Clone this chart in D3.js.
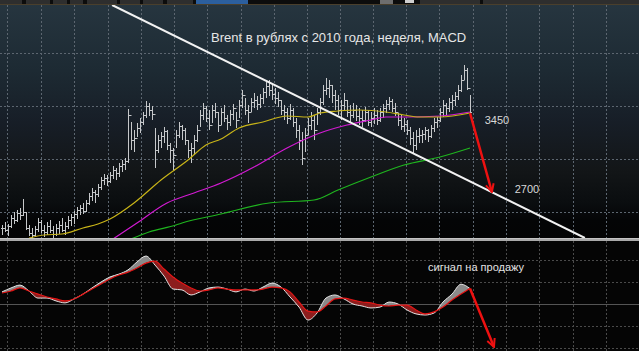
<!DOCTYPE html>
<html>
<head>
<meta charset="utf-8">
<script src="https://cdn.jsdelivr.net/npm/d3@7"></script>
<style>
  html, body { margin: 0; padding: 0; background: #000; }
  svg { display: block; }
</style>
</head>
<body>
<svg width="639" height="351"></svg>
<script>
// weekly Brent in rubles, 2010 onwards
const high = [2330,2360,2340,2430,2460,2480,2500,2590,2460,2330, 2300,2320,2400,2380,2330,2360,2380,2320,2340,2370,
  2400,2360,2420,2440,2470,2510,2530,2550,2580,2650, 2700,2680,2740,2810,2840,2830,2860,2920,2900,2950,
  2980,3000,3490,3360,3280,3350,3400,3460,3570,3550, 3520,3300,3230,3260,3310,3280,3150,3100,3280,3360,
  3330,3300,3180,3150,3230,3330,3480,3550,3520,3480, 3530,3550,3460,3500,3530,3430,3480,3540,3460,3580,
  3680,3600,3530,3600,3650,3620,3640,3700,3760,3780, 3740,3700,3660,3580,3530,3500,3540,3500,3400,3330,
  3260,3300,3400,3460,3430,3500,3600,3730,3800,3780, 3730,3680,3630,3580,3650,3580,3530,3550,3530,3500,
  3480,3510,3480,3460,3500,3480,3500,3540,3580,3610, 3590,3550,3450,3430,3400,3380,3310,3260,3280,3300,
  3280,3310,3290,3330,3400,3410,3500,3580,3550,3600, 3630,3660,3730,3830,3930,3900,3630];
const low = [2230,2260,2220,2300,2340,2360,2380,2420,2280,2220, 2200,2210,2260,2250,2210,2230,2250,2200,2220,2240,
  2260,2230,2290,2320,2340,2390,2430,2440,2460,2530, 2570,2550,2610,2680,2730,2720,2750,2790,2780,2810,
  2860,2880,2950,3080,3060,3210,3250,3330,3400,3420, 3380,2900,3050,3100,3150,3080,2950,2880,3100,3200,
  3180,3130,3000,2950,3030,3160,3310,3380,3360,3280, 3350,3400,3260,3330,3360,3280,3320,3380,3300,3400,
  3500,3430,3350,3460,3500,3480,3500,3540,3600,3620, 3580,3540,3510,3430,3380,3340,3380,3310,3200,3080,
  2930,3060,3230,3280,3180,3330,3430,3530,3630,3600, 3550,3480,3430,3380,3480,3410,3350,3400,3370,3330,
  3310,3360,3320,3310,3340,3330,3360,3400,3450,3480, 3460,3420,3320,3280,3260,3230,3130,3050,3080,3150,
  3150,3180,3160,3200,3260,3300,3360,3410,3430,3460, 3480,3520,3580,3660,3780,3680,3450];
const closes = [2300,2280,2320,2400,2380,2450,2430,2460,2300,2250, 2230,2290,2360,2280,2260,2320,2280,2240,2300,2330,
  2280,2320,2380,2410,2440,2480,2500,2470,2550,2620, 2660,2640,2710,2780,2800,2770,2830,2880,2850,2920,
  2940,2970,3430,3180,3200,3300,3360,3430,3520,3480, 3440,3080,3180,3220,3270,3130,3080,3030,3230,3320,
  3280,3180,3080,3100,3180,3280,3430,3500,3400,3330, 3480,3460,3330,3460,3400,3360,3440,3500,3380,3530,
  3630,3480,3460,3560,3580,3540,3600,3660,3720,3680, 3640,3600,3580,3480,3460,3400,3480,3360,3280,3180,
  3000,3230,3330,3380,3280,3460,3560,3680,3700,3730, 3630,3580,3480,3530,3580,3460,3430,3480,3420,3400,
  3380,3460,3360,3400,3430,3380,3460,3500,3540,3570, 3500,3460,3380,3320,3340,3280,3200,3130,3220,3230,
  3240,3280,3220,3300,3360,3380,3460,3530,3500,3560, 3580,3620,3680,3780,3880,3700,3460];

// moving averages: [week, price]
const maYellow = [[9,2200],[14,2230],[20,2240],[27,2300],[32,2340],[36,2390],[44,2550],[53,2780],[62,2980],[68,3130],
  [73,3190],[79,3300],[87,3360],[95,3420],[102,3410],[106,3450],[112,3470],[119,3480],[128,3460],[134,3430],
  [139,3410],[146,3410],[156,3450]];
const maMagenta = [[37,2190],[45,2350],[55,2550],[64,2650],[73,2750],[84,2910],[95,3100],[106,3250],[115,3330],
  [123,3380],[128,3410],[135,3410],[146,3420],[156,3460]];
const maGreen = [[43,2190],[49,2260],[58,2330],[60,2350],[73,2440],[89,2550],[104,2580],[112,2680],[123,2810],
  [134,2930],[146,3010],[156,3100]];

// MACD and signal, every 3 weeks
const macd = [55,73,86,59,27,27,14,5,23,45,73,100,123,136,155,191,218,177,127,68,64,41,55,73,77,68,55,68,59,77,
  95,77,32,-14,-73,-41,27,41,23,0,-9,-18,-14,9,0,-27,-45,-50,-41,9,45,90,70];
const signal = [50,59,73,59,45,32,23,14,23,45,68,91,114,132,145,164,186,195,159,123,95,73,59,64,73,68,64,64,64,68,
  77,73,55,9,-32,-36,-9,23,27,18,9,5,-5,-9,-5,-5,-27,-45,-36,-14,18,45,72];

const trendLine = [[36.7, 4530], [194.3, 2200]];
const priceArrow = [[156, 3450], [163.3, 2660]];
const macdArrow = [[156, 70], [164, -195]];
const priceLabels = [{ w: 165, v: 3450, t: '3450', dy: 11 }, { w: 175, v: 2700, t: '2700', dy: 5 }];

const gridWeeks = [1.7, 13, 24, 35.3, 46.3, 57.3, 68.3, 79.7, 90.7, 101.7, 112.7, 123.7, 134.7, 145.7,
  157, 168, 179, 190.3, 201.3, 212.2];
const priceGrid = [4050, 3520, 2990, 2460];
const macdGrid = [200, 100, -100, -200];

const titleText = 'Brent в рублях с 2010 года, неделя, MACD';
const signalText = 'сигнал на продажу';

const svg = d3.select('svg');
const W = 639, H = 351;
const font = '"Liberation Sans", Arial, sans-serif';

const x = d3.scaleLinear().domain([0, 156]).range([2, 470]);
const y = d3.scaleLinear().domain([2180, 4530]).range([240, 5]);
const ym = d3.scaleLinear().domain([-200, 200]).range([348, 260]);

const defs = svg.append('defs');
const grad = defs.append('linearGradient').attr('id', 'bg').attr('x1', 0).attr('x2', 0).attr('y1', 0).attr('y2', 1);
[['0%', '#26353f'], ['28%', '#1d2a33'], ['50%', '#171e27'], ['70%', '#131618'], ['85%', '#0a0d0f'], ['92%', '#040506'], ['100%', '#040404']]
  .forEach(([o, c]) => grad.append('stop').attr('offset', o).attr('stop-color', c));

defs.append('marker').attr('id', 'head')
  .attr('viewBox', '0 0 10 10').attr('refX', 9).attr('refY', 5)
  .attr('markerWidth', 4).attr('markerHeight', 4).attr('orient', 'auto')
  .append('path').attr('d', 'M1,1L9,5L1,9').attr('fill', 'none')
  .attr('stroke', '#ee1111').attr('stroke-width', 2);

// toolbar strip
svg.append('rect').attr('width', W).attr('height', 5).attr('fill', '#0c0c0c');
const tabs = [[0, 22], [26, 50], [53, 67], [70, 83], [87, 117], [120, 140], [143, 163], [167, 193], [420, 480], [483, 639]];
svg.selectAll('.tab').data(tabs).enter().append('rect')
  .attr('x', d => d[0]).attr('width', d => d[1] - d[0]).attr('height', 4).attr('fill', '#2e2e2e');
svg.append('rect').attr('x', 196).attr('width', 52).attr('height', 4).attr('fill', '#2c5f9e');
svg.append('rect').attr('x', 380).attr('width', 13).attr('height', 4).attr('fill', '#6e6e6e');
svg.append('rect').attr('x', 405).attr('width', 9).attr('height', 3).attr('fill', '#cfcfcf');
svg.append('rect').attr('y', 4).attr('width', W).attr('height', 1).attr('fill', '#4a3f2c');

// price panel
svg.append('rect').attr('y', 5).attr('width', W).attr('height', 234).attr('fill', 'url(#bg)');
defs.append('clipPath').attr('id', 'topclip').append('rect').attr('y', 5).attr('width', W).attr('height', 233);
const pricePanel = svg.append('g').attr('clip-path', 'url(#topclip)');

pricePanel.selectAll('.vg').data(gridWeeks).enter().append('line')
  .attr('x1', d => Math.round(x(d)) + 0.5).attr('x2', d => Math.round(x(d)) + 0.5)
  .attr('y1', 5).attr('y2', 238)
  .attr('stroke', '#5c6670').attr('stroke-dasharray', '2,2');
pricePanel.selectAll('.hg').data(priceGrid).enter().append('line')
  .attr('x1', 0).attr('x2', W)
  .attr('y1', d => Math.round(y(d)) + 0.5).attr('y2', d => Math.round(y(d)) + 0.5)
  .attr('stroke', '#5c6670').attr('stroke-dasharray', '2,2');

// OHLC bars
let barPath = '';
high.forEach((h, i) => {
  const bx = Math.round(x(i)) + 0.5;
  const o = i ? closes[i - 1] : closes[0];
  barPath += `M${bx},${y(h)}V${y(low[i])}M${bx - 1.5},${Math.round(y(o)) + 0.5}h1.5M${bx},${Math.round(y(closes[i])) + 0.5}h1.5`;
});
pricePanel.append('path').attr('d', barPath).attr('stroke', '#c6c8ca').attr('stroke-width', 1).attr('fill', 'none');

const maLine = d3.line().x(d => x(d[0])).y(d => y(d[1])).curve(d3.curveMonotoneX);
[[maGreen, '#1fb51f'], [maMagenta, '#d21ad2'], [maYellow, '#c8b418']].forEach(([data, c]) => {
  pricePanel.append('path').attr('d', maLine(data)).attr('fill', 'none').attr('stroke', c).attr('stroke-width', 1.2);
});

pricePanel.append('line')
  .attr('x1', x(trendLine[0][0])).attr('y1', y(trendLine[0][1]))
  .attr('x2', x(trendLine[1][0])).attr('y2', y(trendLine[1][1]))
  .attr('stroke', '#f2f2f2').attr('stroke-width', 2);

svg.append('line')
  .attr('x1', x(priceArrow[0][0])).attr('y1', y(priceArrow[0][1]))
  .attr('x2', x(priceArrow[1][0])).attr('y2', y(priceArrow[1][1]))
  .attr('stroke', '#ee1111').attr('stroke-width', 2.5).attr('marker-end', 'url(#head)');

svg.selectAll('.plab').data(priceLabels).enter().append('text')
  .attr('x', d => x(d.w)).attr('y', d => y(d.v) + d.dy)
  .attr('text-anchor', 'middle').attr('fill', '#d8d8d8')
  .style('font-family', font).style('font-size', '11px')
  .text(d => d.t);

svg.append('text').attr('x', 211).attr('y', 42)
  .attr('fill', '#e6e6e6').style('font-family', font).style('font-size', '13px')
  .text(titleText);

// separator
svg.append('rect').attr('y', 238).attr('width', W).attr('height', 3).attr('fill', '#a9a9a9');
svg.append('rect').attr('y', 238).attr('width', W).attr('height', 1).attr('fill', '#c4c4c4');

// MACD panel
svg.append('rect').attr('y', 241).attr('width', W).attr('height', H - 241).attr('fill', '#050505');
const macdPanel = svg.append('g');
macdPanel.selectAll('.vg').data(gridWeeks).enter().append('line')
  .attr('x1', d => Math.round(x(d)) + 0.5).attr('x2', d => Math.round(x(d)) + 0.5)
  .attr('y1', 241).attr('y2', H)
  .attr('stroke', '#4a4a4a').attr('stroke-dasharray', '2,2');
macdPanel.selectAll('.hg').data(macdGrid).enter().append('line')
  .attr('x1', 0).attr('x2', W)
  .attr('y1', d => Math.round(ym(d)) + 0.5).attr('y2', d => Math.round(ym(d)) + 0.5)
  .attr('stroke', '#4a4a4a').attr('stroke-dasharray', '2,2');
macdPanel.append('line').attr('x1', 0).attr('x2', W).attr('y1', ym(0) + 0.5).attr('y2', ym(0) + 0.5)
  .attr('stroke', '#555');

const mdata = macd.map((v, k) => ({ w: k * 3, m: v, s: signal[k] }));
const curve = d3.curveMonotoneX;
defs.append('clipPath').attr('id', 'above').append('path')
  .attr('d', d3.area().x(d => x(d.w)).y0(241).y1(d => ym(d.s)).curve(curve)(mdata));
defs.append('clipPath').attr('id', 'below').append('path')
  .attr('d', d3.area().x(d => x(d.w)).y0(H).y1(d => ym(d.s)).curve(curve)(mdata));
const between = d3.area().x(d => x(d.w)).y0(d => ym(d.s)).y1(d => ym(d.m)).curve(curve)(mdata);
macdPanel.append('path').attr('d', between).attr('fill', '#8a8a8a').attr('clip-path', 'url(#above)');
macdPanel.append('path').attr('d', between).attr('fill', '#8c1d1d').attr('clip-path', 'url(#below)');
macdPanel.append('path').attr('d', d3.line().x(d => x(d.w)).y(d => ym(d.m)).curve(curve)(mdata))
  .attr('fill', 'none').attr('stroke', '#e4e4e4').attr('stroke-width', 1);
macdPanel.append('path').attr('d', d3.line().x(d => x(d.w)).y(d => ym(d.s)).curve(curve)(mdata))
  .attr('fill', 'none').attr('stroke', '#e41414').attr('stroke-width', 1.2);

svg.append('line')
  .attr('x1', x(macdArrow[0][0])).attr('y1', ym(macdArrow[0][1]))
  .attr('x2', x(macdArrow[1][0])).attr('y2', ym(macdArrow[1][1]))
  .attr('stroke', '#ee1111').attr('stroke-width', 2.5).attr('marker-end', 'url(#head)');

svg.append('text').attr('x', 428).attr('y', 271)
  .attr('fill', '#e2e2e2').style('font-family', font).style('font-size', '11px')
  .text(signalText);
</script>
</body>
</html>
